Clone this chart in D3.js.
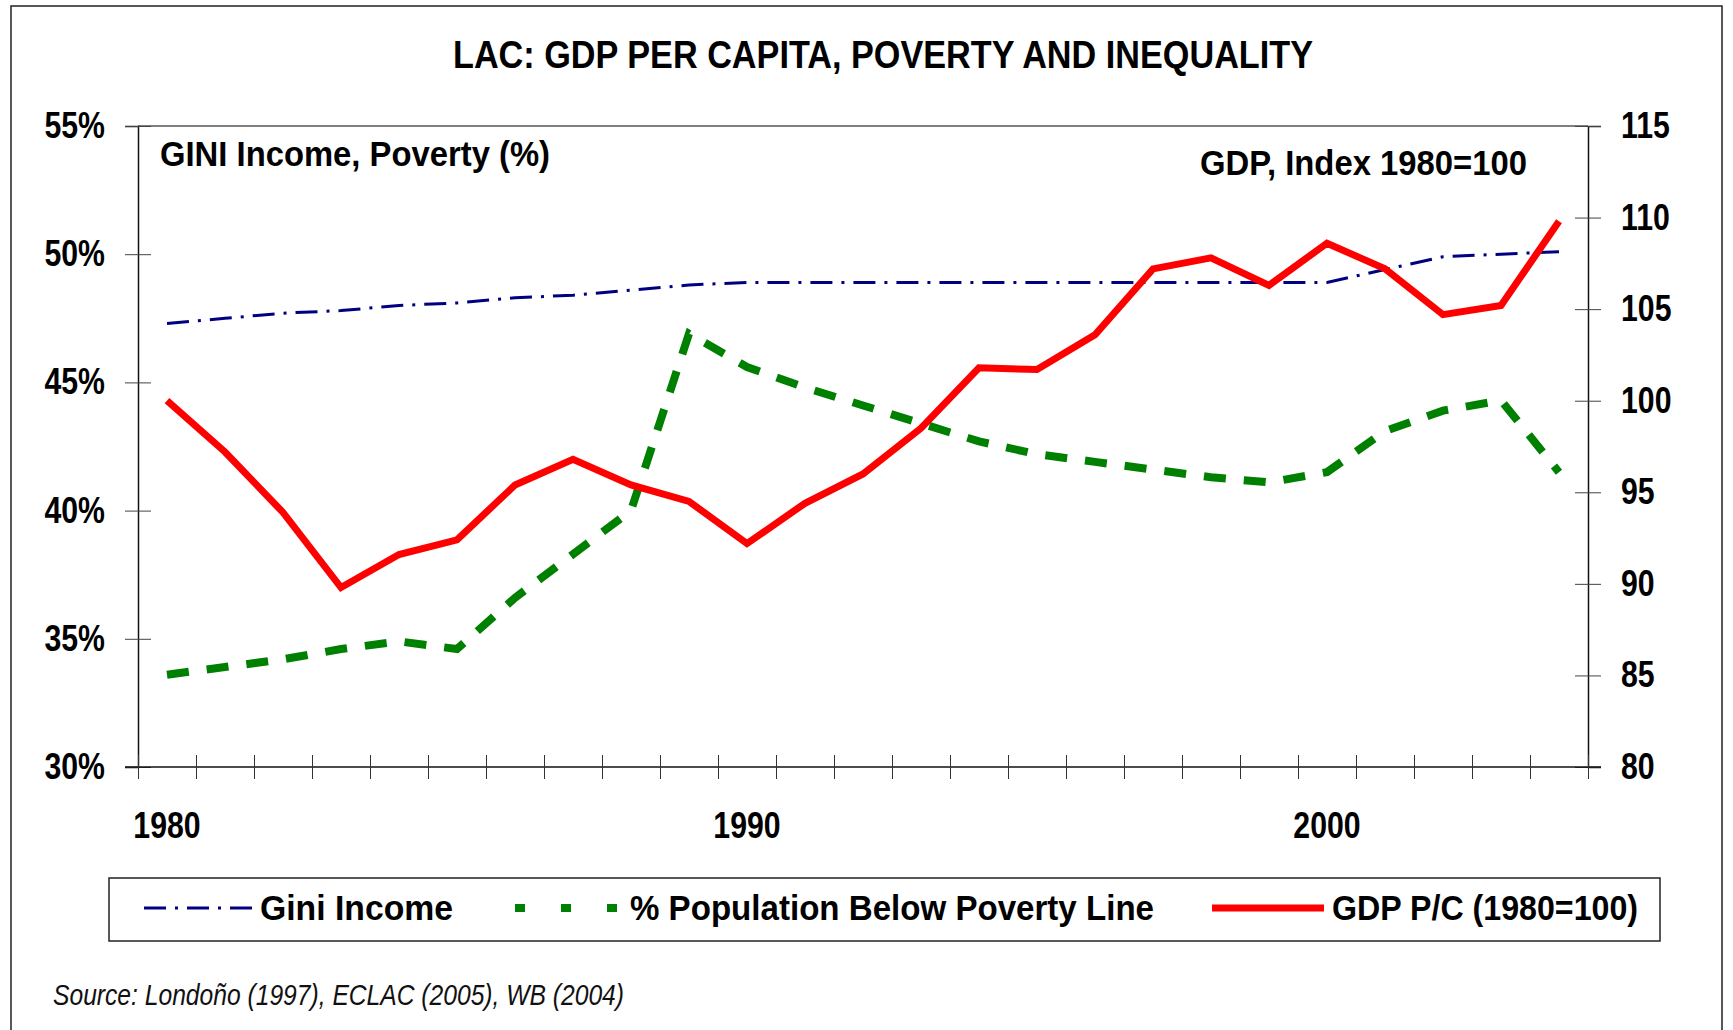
<!DOCTYPE html>
<html>
<head>
<meta charset="utf-8">
<script src="https://cdn.jsdelivr.net/npm/d3@7"></script>
<style>
  body { margin: 0; background: #fff; }
  svg text { font-family: "Liberation Sans Narrow", "Arial Narrow", "Liberation Sans", Arial, sans-serif; }
</style>
</head>
<body>
<svg id="chart" width="1733" height="1030"></svg>
<script>
// years on the category axis
var years = d3.range(1980, 2005);
var yearLabels = [1980, 1990, 2000];

// Gini income (%), left axis
var gini = [47.3, 47.5, 47.7, 47.8, 48.0, 48.1, 48.3, 48.4, 48.6, 48.8,
            48.9, 48.9, 48.9, 48.9, 48.9, 48.9, 48.9, 48.9, 48.9, 48.9,
            48.9, 49.4, 49.9, 50.0, 50.1];

// % population below poverty line, left axis
var poverty = [33.6, 33.9, 34.2, 34.6, 34.9, 34.6, 36.6, 38.3, 40.0, 46.9,
               45.6, 44.8, 44.1, 43.4, 42.7, 42.2, 41.9, 41.6, 41.3, 41.1,
               41.5, 43.1, 43.9, 44.3, 41.5];

// GDP per capita index 1980=100, right axis
var gdp = [100.0, 97.2, 93.9, 89.8, 91.6, 92.4, 95.4, 96.8, 95.4, 94.5,
           92.2, 94.4, 96.0, 98.5, 101.8, 101.7, 103.6, 107.2, 107.8, 106.3,
           108.6, 107.2, 104.7, 105.2, 109.8];

var leftTicks = [30, 35, 40, 45, 50, 55];
var rightTicks = [80, 85, 90, 95, 100, 105, 110, 115];

var svg = d3.select('#chart');
var plot = {left: 138, right: 1588, top: 126, bottom: 767};

// squeeze text to a narrow look (no narrow font installed)
function squeeze(sel, factor) {
  sel.each(function() {
    var w = this.getComputedTextLength();
    d3.select(this).attr('textLength', w * factor).attr('lengthAdjust', 'spacingAndGlyphs');
  });
}

// outer frame
svg.append('path')
  .attr('d', 'M11,1030 V6 H1722 V1030')
  .attr('fill', 'none').attr('stroke', '#222').attr('stroke-width', 1.5);

svg.append('text')
  .attr('x', 883).attr('y', 68)
  .attr('text-anchor', 'middle')
  .style('font-size', '39px').style('font-weight', 'bold')
  .text('LAC: GDP PER CAPITA, POVERTY AND INEQUALITY')
  .attr('textLength', 860).attr('lengthAdjust', 'spacingAndGlyphs');

var x = d3.scaleBand().domain(years).range([plot.left, plot.right]).padding(0);
var xEdge = d3.scaleLinear().domain([0, years.length]).range([plot.left, plot.right]);
var yL = d3.scaleLinear().domain([30, 55]).range([plot.bottom, plot.top]);
var yR = d3.scaleLinear().domain([80, 115]).range([plot.bottom, plot.top]);
var cx = function(d, i) { return x(years[i]) + x.bandwidth() / 2; };

// plot area top edge
svg.append('line')
  .attr('x1', plot.left).attr('x2', plot.right)
  .attr('y1', plot.top).attr('y2', plot.top)
  .attr('stroke', '#555').attr('stroke-width', 1.5);

// left axis
var gL = svg.append('g').attr('transform', 'translate(' + plot.left + ',0)')
  .call(d3.axisLeft(yL).tickValues(leftTicks).tickSize(13).tickPadding(20)
    .tickFormat(function(d) { return d + '%'; }));
gL.selectAll('.tick line').attr('x1', -13).attr('x2', 13).attr('stroke', '#444');

// right axis
var gR = svg.append('g').attr('transform', 'translate(' + plot.right + ',0)')
  .call(d3.axisRight(yR).tickValues(rightTicks).tickSize(13).tickPadding(20));
gR.selectAll('.tick line').attr('x1', -13).attr('x2', 13).attr('stroke', '#444');

// bottom axis, ticks at the category edges
var gX = svg.append('g').attr('transform', 'translate(0,' + plot.bottom + ')')
  .call(d3.axisBottom(xEdge).tickValues(d3.range(years.length + 1)).tickSize(12).tickFormat(''));
gX.selectAll('.tick line').attr('y1', -12).attr('y2', 12).attr('stroke', '#333');
gX.select('.domain').attr('d', 'M' + (plot.left - 13) + ',0H' + (plot.right + 13));

[gL, gR, gX].forEach(function(g) {
  g.select('.domain').attr('stroke', '#111').attr('stroke-width', 1.5);
  g.selectAll('text').attr('fill', '#000').style('font-size', '36px').style('font-weight', 'bold')
    .style('font-family', '"Liberation Sans Narrow", "Arial Narrow", "Liberation Sans", Arial, sans-serif');
});
gL.selectAll('.tick text').attr('x', -33);
squeeze(gL.selectAll('.tick text'), 0.84);
squeeze(gR.selectAll('.tick text'), 0.84);

var yl = svg.selectAll('.yearlab').data(yearLabels).enter().append('text')
  .attr('class', 'yearlab')
  .attr('x', function(d) { return x(d) + x.bandwidth() / 2; })
  .attr('y', 838)
  .attr('text-anchor', 'middle')
  .style('font-size', '36px').style('font-weight', 'bold')
  .text(function(d) { return d; });
squeeze(yl, 0.84);

// axis captions inside the plot
svg.append('text').attr('x', 160).attr('y', 166)
  .style('font-size', '35px').style('font-weight', 'bold')
  .text('GINI Income, Poverty (%)')
  .attr('textLength', 390).attr('lengthAdjust', 'spacingAndGlyphs');
svg.append('text').attr('x', 1527).attr('y', 175).attr('text-anchor', 'end')
  .style('font-size', '35px').style('font-weight', 'bold')
  .text('GDP, Index 1980=100')
  .attr('textLength', 327).attr('lengthAdjust', 'spacingAndGlyphs');

var lineL = d3.line().x(cx).y(function(d) { return yL(d); });
var lineR = d3.line().x(cx).y(function(d) { return yR(d); });

var series = [
  {name: 'Gini Income', data: gini, gen: lineL, color: '#000080', width: 3, dash: '22,9,3,9', tw: 193},
  {name: '% Population Below Poverty Line', data: poverty, gen: lineL, color: '#008000', width: 8, dash: '22,18', tw: 524},
  {name: 'GDP P/C (1980=100)', data: gdp, gen: lineR, color: '#ff0000', width: 7, dash: null, tw: 306}
];

svg.selectAll('.series').data(series).enter().append('path')
  .attr('class', 'series')
  .attr('d', function(s) { return s.gen(s.data); })
  .attr('fill', 'none')
  .attr('stroke', function(s) { return s.color; })
  .attr('stroke-width', function(s) { return s.width; })
  .attr('stroke-dasharray', function(s) { return s.dash; })
  .attr('stroke-linejoin', 'miter');

// legend
svg.append('rect').attr('x', 109).attr('y', 878).attr('width', 1551).attr('height', 63)
  .attr('fill', '#fff').attr('stroke', '#222').attr('stroke-width', 1.5);

var legendPos = [{x0: 144, x1: 252, tx: 260}, {x0: 510, x1: 624, tx: 630}, {x0: 1212, x1: 1324, tx: 1332}];
var leg = svg.selectAll('.leg').data(series).enter().append('g').attr('class', 'leg');
leg.append('line')
  .attr('x1', function(s, i) { return legendPos[i].x0; })
  .attr('x2', function(s, i) { return legendPos[i].x1; })
  .attr('y1', 908).attr('y2', 908)
  .attr('stroke', function(s) { return s.color; })
  .attr('stroke-width', function(s) { return s.width; })
  .attr('stroke-dasharray', function(s, i) { return i === 1 ? '10,36' : s.dash; })
  .attr('stroke-dashoffset', function(s, i) { return i === 1 ? -5 : 0; });
leg.append('text')
  .attr('x', function(s, i) { return legendPos[i].tx; })
  .attr('y', 920)
  .style('font-size', '35px').style('font-weight', 'bold')
  .text(function(s) { return s.name; })
  .attr('textLength', function(s) { return s.tw; }).attr('lengthAdjust', 'spacingAndGlyphs');

svg.append('text').attr('x', 53).attr('y', 1005)
  .style('font-size', '29px').style('font-style', 'italic').attr('fill', '#111')
  .text('Source: Londoño (1997), ECLAC (2005), WB (2004)')
  .attr('textLength', 571).attr('lengthAdjust', 'spacingAndGlyphs');
</script>
</body>
</html>
